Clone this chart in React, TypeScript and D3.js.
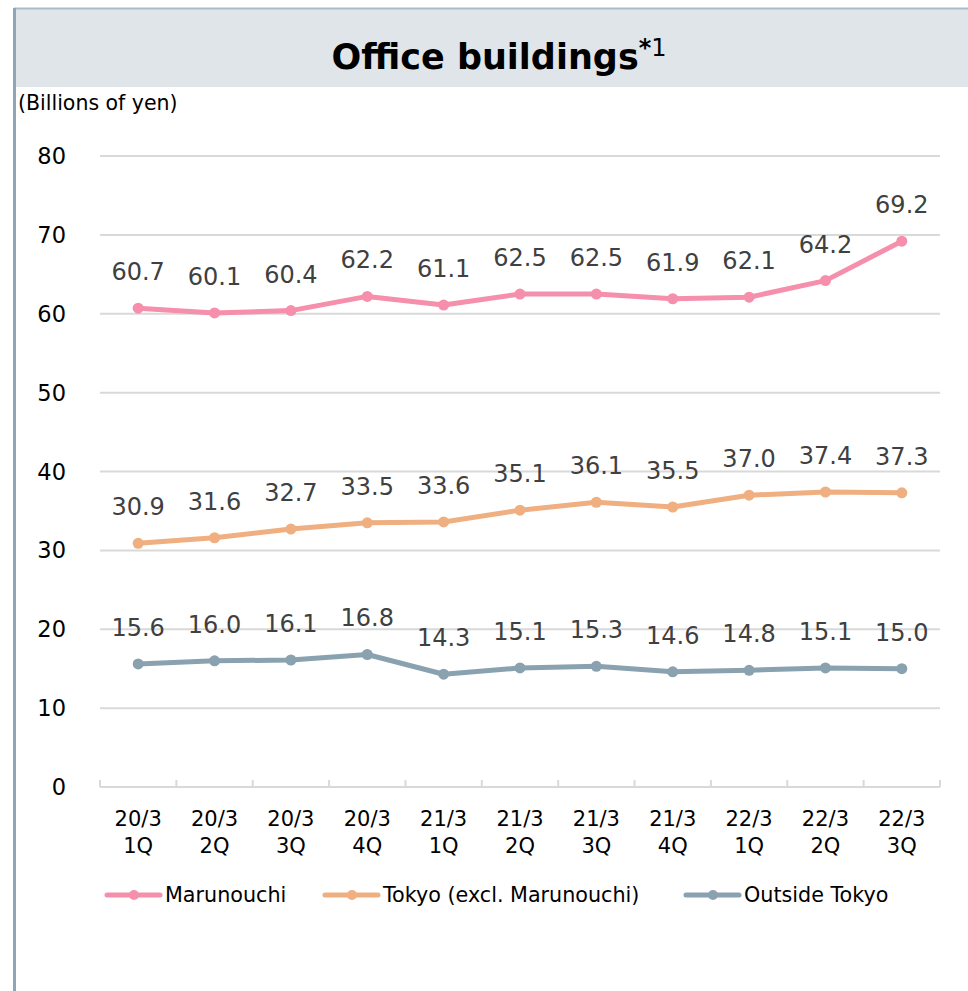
import React from "react";
import * as d3 from "d3";

const categories = ["20/3|1Q", "20/3|2Q", "20/3|3Q", "20/3|4Q", "21/3|1Q", "21/3|2Q", "21/3|3Q", "21/3|4Q", "22/3|1Q", "22/3|2Q", "22/3|3Q"];
const marunouchi = [60.7, 60.1, 60.4, 62.2, 61.1, 62.5, 62.5, 61.9, 62.1, 64.2, 69.2];
const tokyo = [30.9, 31.6, 32.7, 33.5, 33.6, 35.1, 36.1, 35.5, 37.0, 37.4, 37.3];
const outside = [15.6, 16.0, 16.1, 16.8, 14.3, 15.1, 15.3, 14.6, 14.8, 15.1, 15.0];
const seriesNames = ["Marunouchi", "Tokyo (excl. Marunouchi)", "Outside Tokyo"];
const yTicks = [0, 10, 20, 30, 40, 50, 60, 70, 80];
const colors = ["#f68fab", "#efaf80", "#8aa2b0"];

export default function App() {
  const W = 968, H = 991;
  const x = d3.scaleBand<string>().domain(categories).range([100, 940]);
  const y = d3.scaleLinear().domain([0, 80]).range([787, 156]);
  const line = d3.line<number>().x((_, i) => (x(categories[i]) as number) + x.bandwidth() / 2).y(d => y(d));
  const series = [marunouchi, tokyo, outside];
  const font = "'DejaVu Sans', Verdana, sans-serif";
  const legendX = [107, 325, 686];
  return (
    <svg width={W} height={H} style={{ position: "absolute", left: 0, top: 0 }} fontFamily={font}>
      <rect x={0} y={0} width={W} height={H} fill="#fff" />
      <rect x={15} y={9} width={W - 15} height={78} fill="#dfe5e9" />
      <line x1={14} x2={W} y1={8.5} y2={8.5} stroke="#a9bccb" strokeWidth={2} />
      <line x1={14.5} x2={14.5} y1={8} y2={H} stroke="#8ea6ba" strokeWidth={3} />
      <text x={499} y={69} textAnchor="middle" fontSize={35} fontWeight="bold" fill="#000">
        Office buildings<tspan fontSize={24} dy={-13}>*</tspan><tspan fontSize={24} fontWeight="normal">1</tspan>
      </text>
      <text x={18} y={110} fontSize={20.5} fill="#000">(Billions of yen)</text>
      {yTicks.map(t => (
        <g key={t}>
          {t > 0 && <line x1={100} x2={940} y1={y(t)} y2={y(t)} stroke="#d9d9d9" strokeWidth={2} />}
          <text x={66} y={y(t) + 8} textAnchor="end" fontSize={22.5} fill="#000">{t}</text>
        </g>
      ))}
      <line x1={100} x2={940} y1={y(0)} y2={y(0)} stroke="#d9d9d9" strokeWidth={2} />
      {categories.map((c, i) => (
        <line key={"t" + i} x1={x(c) as number} x2={x(c) as number} y1={y(0) - 7} y2={y(0)} stroke="#d9d9d9" strokeWidth={2} />
      ))}
      <line x1={940} x2={940} y1={y(0) - 7} y2={y(0)} stroke="#d9d9d9" strokeWidth={2} />
      {categories.map((c, i) => {
        const [a, b] = c.split("|");
        const cx = (x(c) as number) + x.bandwidth() / 2;
        return (
          <text key={"c" + i} textAnchor="middle" fontSize={21} fill="#000">
            <tspan x={cx} y={826}>{a}</tspan>
            <tspan x={cx} y={853}>{b}</tspan>
          </text>
        );
      })}
      {series.map((s, si) => (
        <g key={"s" + si}>
          <path d={line(s) as string} fill="none" stroke={colors[si]} strokeWidth={5} strokeLinejoin="round" />
          {s.map((v, i) => {
            const cx = (x(categories[i]) as number) + x.bandwidth() / 2;
            return (
              <g key={i}>
                <circle cx={cx} cy={y(v)} r={5.5} fill={colors[si]} />
                <text x={cx} y={y(v) - 28} textAnchor="middle" fontSize={24} fill="#404040">{v.toFixed(1)}</text>
              </g>
            );
          })}
        </g>
      ))}
      {seriesNames.map((n, i) => (
        <g key={"l" + i}>
          <line x1={legendX[i]} x2={legendX[i] + 53} y1={895} y2={895} stroke={colors[i]} strokeWidth={5} strokeLinecap="round" />
          <circle cx={legendX[i] + 27} cy={895} r={5} fill={colors[i]} />
          <text x={legendX[i] + 58} y={902} fontSize={20.7} fill="#000">{n}</text>
        </g>
      ))}
    </svg>
  );
}
